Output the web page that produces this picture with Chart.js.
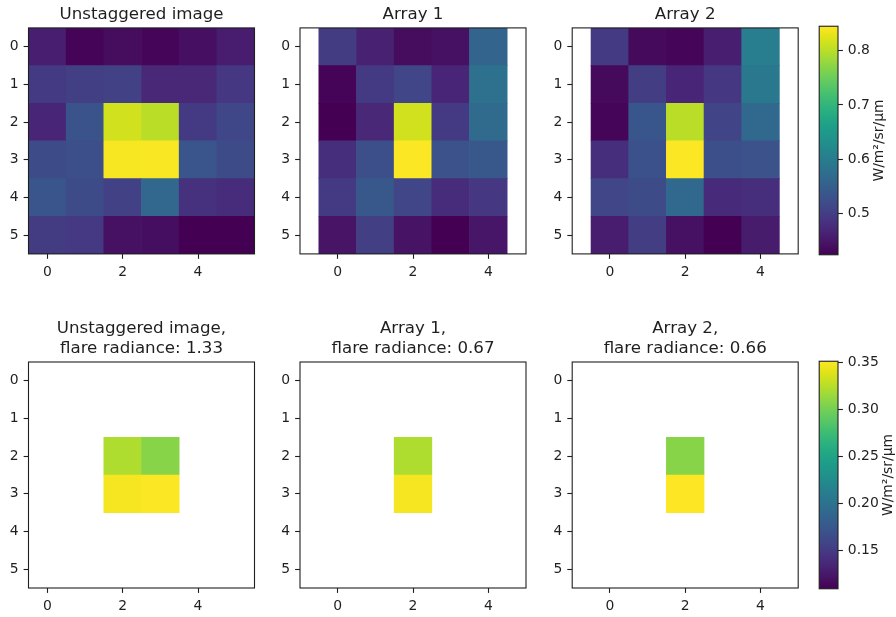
<!DOCTYPE html>
<html>
<head>
<meta charset="utf-8">
<script src="https://cdn.jsdelivr.net/npm/chart.js@4/dist/chart.umd.min.js"></script>
<style>
  html, body { margin: 0; padding: 0; background: #fff; }
  #fig { position: relative; width: 896px; height: 617px; overflow: hidden; background: #fff; }
  #fig canvas { position: absolute; }
</style>
</head>
<body>
<div id="fig"></div>
<script>
// ---- Data: radiance maps in W/m²/sr/μm (rows top to bottom, columns left to right) ----
const rowTicks = [0, 1, 2, 3, 4, 5];
const colTicks = [0, 2, 4];

const unstaggeredImage = [
  [0.459, 0.427, 0.436, 0.429, 0.440, 0.457],
  [0.495, 0.501, 0.503, 0.470, 0.470, 0.491],
  [0.467, 0.531, 0.816, 0.801, 0.495, 0.512],
  [0.518, 0.524, 0.841, 0.843, 0.533, 0.518],
  [0.533, 0.520, 0.503, 0.562, 0.482, 0.476],
  [0.497, 0.493, 0.442, 0.438, 0.423, 0.423]
];
const array1Image = [
  [0.497, 0.461, 0.436, 0.442, 0.558],
  [0.427, 0.495, 0.510, 0.467, 0.579],
  [0.423, 0.470, 0.816, 0.495, 0.569],
  [0.478, 0.524, 0.845, 0.529, 0.539],
  [0.495, 0.539, 0.510, 0.476, 0.491],
  [0.446, 0.501, 0.444, 0.423, 0.448]
];
const array2Image = [
  [0.495, 0.434, 0.429, 0.459, 0.600],
  [0.434, 0.499, 0.467, 0.491, 0.592],
  [0.429, 0.535, 0.801, 0.508, 0.565],
  [0.478, 0.527, 0.845, 0.524, 0.529],
  [0.510, 0.520, 0.565, 0.474, 0.478],
  [0.457, 0.499, 0.442, 0.423, 0.455]
];

// Flare component; null marks pixels without flare
const unstaggeredFlare = [
  [null, null, null,  null,  null, null],
  [null, null, null,  null,  null, null],
  [null, null, 0.322, 0.308, null, null],
  [null, null, 0.348, 0.350, null, null],
  [null, null, null,  null,  null, null],
  [null, null, null,  null,  null, null]
];
const array1Flare = [
  [null, null, null,  null, null],
  [null, null, null,  null, null],
  [null, null, 0.322, null, null],
  [null, null, 0.348, null, null],
  [null, null, null,  null, null],
  [null, null, null,  null, null]
];
const array2Flare = [
  [null, null, null,  null, null],
  [null, null, null,  null, null],
  [null, null, 0.308, null, null],
  [null, null, 0.351, null, null],
  [null, null, null,  null, null],
  [null, null, null,  null, null]
];

const imageRange = [0.4231, 0.8454];
const flareRange = [0.1098, 0.3510];
const imageBarTicks = [0.5, 0.6, 0.7, 0.8];
const flareBarTicks = [0.15, 0.20, 0.25, 0.30, 0.35];
const panelNames = ['Unstaggered image', 'Array 1', 'Array 2'];
const unitLabel = 'W/m²/sr/μm';

// ---- Colour map ----
const VIRIDIS = ['#440154','#471365','#482475','#463480','#414487','#3b528b','#355f8d',
  '#2f6c8e','#2a788e','#25848e','#21918c','#1e9c89','#22a884','#2fb47c','#44bf70',
  '#5ec962','#7ad151','#9bd93c','#bddf26','#dfe318','#fde725'];
const VIR_RGB = VIRIDIS.map(h => [1, 3, 5].map(i => parseInt(h.substr(i, 2), 16)));

function viridis(t) {
  t = Math.min(1, Math.max(0, t));
  const p = t * (VIR_RGB.length - 1);
  const i = Math.min(VIR_RGB.length - 2, Math.floor(p));
  const f = p - i;
  const a = VIR_RGB[i], b = VIR_RGB[i + 1];
  const c = a.map((v, k) => Math.round(v + (b[k] - v) * f));
  return `rgb(${c[0]},${c[1]},${c[2]})`;
}

// ---- Styling / layout ----
const FONT = "'DejaVu Sans', 'Liberation Sans', sans-serif";
const INK = '#1f1f1f';
const TICK_SIZE = 13.9, TITLE_SIZE = 16.67;
const TICK_LEN = 4.9, TICK_PAD = 4.9, LINE_W = 1.1;
const AREA = 226;
const Y_AXIS_W = 28.5, X_AXIS_H = 30;
const TITLE_LH = TITLE_SIZE * 1.2, TITLE_GAP = 3.3;

Chart.defaults.font.family = FONT;
Chart.defaults.font.size = TICK_SIZE;
Chart.defaults.color = INK;

const fig = document.getElementById('fig');
function addCanvas(left, top, w, h) {
  const c = document.createElement('canvas');
  c.width = w; c.height = h;
  c.style.left = left + 'px'; c.style.top = top + 'px';
  c.style.width = w + 'px'; c.style.height = h + 'px';
  fig.appendChild(c);
  return c;
}

// Box around the plotting area (all four spines)
const framePlugin = {
  id: 'frame',
  afterDatasetsDraw(chart) {
    const { ctx, chartArea: a } = chart;
    ctx.save();
    ctx.strokeStyle = INK;
    ctx.lineWidth = LINE_W;
    ctx.strokeRect(a.left, a.top, a.right - a.left, a.bottom - a.top);
    ctx.restore();
  }
};

function axisStyle() {
  return {
    type: 'linear',
    offset: false,
    grid: { display: true, drawOnChartArea: false, drawTicks: true, offset: false,
            tickLength: TICK_LEN, tickWidth: LINE_W, tickColor: INK },
    border: { display: false },
    ticks: { color: INK, padding: TICK_PAD, maxRotation: 0, autoSkip: false,
             font: { family: FONT, size: TICK_SIZE } }
  };
}

function heatmap({ left, top, grid, range, title }) {
  const nRows = grid.length, nCols = grid[0].length;
  const center = (nCols - 1) / 2, half = nRows / 2;

  const cells = [];
  grid.forEach((row, r) => row.forEach((v, c) => {
    cells.push({ x: c, y: v === null ? null : [r - 0.5, r + 0.5], v });
  }));

  const titleH = title.length * TITLE_LH + TITLE_GAP;
  const cLeft = Math.floor(left - Y_AXIS_W);
  const cTop = Math.floor(top - titleH);
  const padL = left - Y_AXIS_W - cLeft;
  const padT = top - titleH - cTop;
  const cW = Math.ceil(padL + Y_AXIS_W + AREA + 10);
  const cH = Math.ceil(padT + titleH + AREA + X_AXIS_H);
  const padR = cW - padL - Y_AXIS_W - AREA;
  const padB = cH - padT - titleH - AREA - X_AXIS_H;

  const x = axisStyle();
  Object.assign(x, {
    min: center - half, max: center + half,
    afterBuildTicks: s => { s.ticks = colTicks.map(v => ({ value: v })); },
    afterFit: s => { s.height = X_AXIS_H; }
  });
  const y = axisStyle();
  Object.assign(y, {
    reverse: true, min: -0.5, max: nRows - 0.5,
    afterBuildTicks: s => { s.ticks = rowTicks.map(v => ({ value: v })); },
    afterFit: s => { s.width = Y_AXIS_W; }
  });

  new Chart(addCanvas(cLeft, cTop, cW, cH), {
    type: 'bar',
    data: {
      datasets: [{
        data: cells,
        backgroundColor: ctx => {
          const v = ctx.raw && ctx.raw.v;
          return v == null ? 'rgba(0,0,0,0)' : viridis((v - range[0]) / (range[1] - range[0]));
        },
        borderWidth: 0,
        barPercentage: 1,
        categoryPercentage: 1
      }]
    },
    options: {
      responsive: false,
      animation: false,
      devicePixelRatio: 1,
      layout: { padding: { left: padL, top: padT, right: padR, bottom: padB } },
      plugins: {
        legend: { display: false },
        tooltip: { enabled: false },
        title: {
          display: true, fullSize: false, text: title, color: INK,
          font: { family: FONT, size: TITLE_SIZE, weight: 'normal', lineHeight: 1.2 },
          padding: { top: 0, bottom: TITLE_GAP }
        }
      },
      scales: { x, y }
    },
    plugins: [framePlugin]
  });
}

function colorbar({ left, top, height, range, ticks, decimals }) {
  const W = 18.8;
  const cLeft = Math.floor(left - 4);
  const cTop = Math.floor(top - 4);
  const padL = left - cLeft;
  const padT = top - cTop;
  const cW = 896 - cLeft;
  const cH = Math.ceil(padT + height + 4);
  const padB = cH - padT - height;
  const axisW = cW - padL - W;

  const labelPlugin = {
    id: 'cbarLabel',
    afterDraw(chart) {
      const { ctx, chartArea: a, scales: { y } } = chart;
      ctx.save();
      ctx.font = `${TICK_SIZE}px ${FONT}`;
      const maxW = Math.max(...y.ticks.map(t => ctx.measureText(String(t.label)).width));
      const lx = a.right + TICK_LEN + TICK_PAD + maxW + 9.3;
      ctx.translate(lx, (a.top + a.bottom) / 2);
      ctx.rotate(-Math.PI / 2);
      ctx.textAlign = 'center';
      ctx.textBaseline = 'middle';
      ctx.fillStyle = INK;
      ctx.fillText(unitLabel, 0, 0);
      ctx.restore();
    }
  };

  const yAxis = axisStyle();
  Object.assign(yAxis, {
    position: 'right', min: range[0], max: range[1],
    afterBuildTicks: s => { s.ticks = ticks.map(v => ({ value: v })); },
    afterFit: s => { s.width = axisW; }
  });
  yAxis.ticks.callback = v => Number(v).toFixed(decimals);

  new Chart(addCanvas(cLeft, cTop, cW, cH), {
    type: 'bar',
    data: {
      labels: [''],
      datasets: [{
        data: [[range[0], range[1]]],
        backgroundColor: ctx => {
          const chart = ctx.chart, ys = chart.scales && chart.scales.y;
          if (!chart.chartArea || !ys) return VIRIDIS[0];
          const g = chart.ctx.createLinearGradient(0, ys.getPixelForValue(range[0]), 0, ys.getPixelForValue(range[1]));
          VIRIDIS.forEach((c, i) => g.addColorStop(i / (VIRIDIS.length - 1), c));
          return g;
        },
        borderWidth: 0,
        barPercentage: 1,
        categoryPercentage: 1
      }]
    },
    options: {
      responsive: false,
      animation: false,
      devicePixelRatio: 1,
      layout: { padding: { left: padL, top: padT, right: 0, bottom: padB } },
      plugins: { legend: { display: false }, tooltip: { enabled: false }, title: { display: false } },
      scales: { x: { display: false, offset: true }, y: yAxis }
    },
    plugins: [framePlugin, labelPlugin]
  });
}

const sum = g => g.flat().reduce((s, v) => s + (v === null ? 0 : v), 0);

const panelLefts = [28.5, 300, 572.2];
const topRowTop = 27.9, bottomRowTop = 362.0;

[unstaggeredImage, array1Image, array2Image].forEach((g, i) => {
  heatmap({ left: panelLefts[i], top: topRowTop, grid: g, range: imageRange, title: [panelNames[i]] });
});
[unstaggeredFlare, array1Flare, array2Flare].forEach((g, i) => {
  heatmap({
    left: panelLefts[i], top: bottomRowTop, grid: g, range: flareRange,
    title: [panelNames[i] + ',', 'flare radiance: ' + sum(g).toFixed(2)]
  });
});

colorbar({ left: 819.2, top: 17.9, height: 245.5, range: imageRange, ticks: imageBarTicks, decimals: 1 });
colorbar({ left: 819.2, top: 352.3, height: 244.8, range: flareRange, ticks: flareBarTicks, decimals: 2 });
</script>
</body>
</html>
